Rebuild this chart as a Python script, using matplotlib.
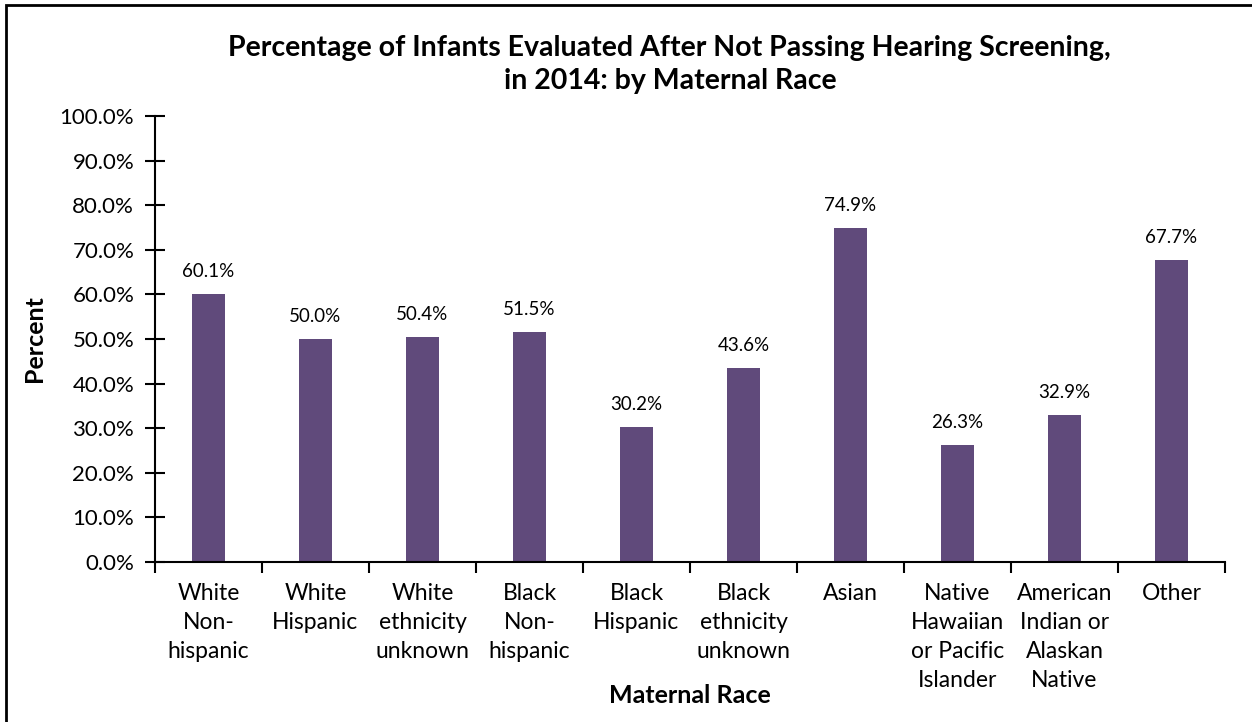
import matplotlib
matplotlib.use("Agg")
import matplotlib.pyplot as plt
from matplotlib.patches import Rectangle
import numpy as np

races = [
    "White\nNon-\nhispanic",
    "White\nHispanic",
    "White\nethnicity\nunknown",
    "Black\nNon-\nhispanic",
    "Black\nHispanic",
    "Black\nethnicity\nunknown",
    "Asian",
    "Native\nHawaiian\nor Pacific\nIslander",
    "American\nIndian or\nAlaskan\nNative",
    "Other",
]
percent = [60.1, 50.0, 50.4, 51.5, 30.2, 43.6, 74.9, 26.3, 32.9, 67.7]
y_ticks = np.arange(0, 101, 10)

plt.rcParams['font.family'] = ['Lato', 'DejaVu Sans']

fig = plt.figure(figsize=(12.52, 7.22), dpi=100)
ax = fig.add_axes([0.1238, 0.2216, 0.8546, 0.6177])

x = np.arange(len(races))
ax.bar(x, percent, width=0.31, color="#604A7B")

# value labels above the bars
for xi, v in zip(x, percent):
    ax.annotate(f"{v:.1f}%", (xi, v), xytext=(0, 10), textcoords="offset points",
                ha="center", va="bottom", fontsize=13.5)

ax.set_xlim(-0.5, len(races) - 0.5)
ax.set_ylim(0, 100)
ax.set_yticks(y_ticks)
ax.set_yticklabels([f"{t:.1f}%" for t in y_ticks], fontsize=16)
ax.tick_params(axis="y", direction="inout", length=14, width=1.5, pad=8)

ax.set_xticks(x)
ax.set_xticklabels(races, fontsize=16.5, linespacing=1.47, va="top")
ax.tick_params(axis="x", which="major", length=0, pad=15)
# tick marks sit between categories
ax.set_xticks(np.arange(-0.5, len(races)), minor=True)
ax.tick_params(axis="x", which="minor", direction="out", length=8, width=1.5)

for s in ["top", "right"]:
    ax.spines[s].set_visible(False)
for s in ["left", "bottom"]:
    ax.spines[s].set_linewidth(1.5)

ax.set_xlabel("Maternal Race", fontsize=18, fontweight="bold", labelpad=-5)
ax.set_ylabel("Percent", fontsize=18, fontweight="bold", labelpad=10)

fig.text(0.535, 0.9107, "Percentage of Infants Evaluated After Not Passing Hearing Screening,\nin 2014: by Maternal Race",
         ha="center", va="center", fontsize=20.5, fontweight="bold", linespacing=1.35)

# outer frame (only top and left edges fall inside the image)
fig.patches.append(Rectangle((6 / 1252, -0.05), 1.1, 1 - 5 / 722 + 0.05,
                             transform=fig.transFigure, fill=False,
                             edgecolor="black", linewidth=2))

fig.savefig("out.png", dpi=100)
